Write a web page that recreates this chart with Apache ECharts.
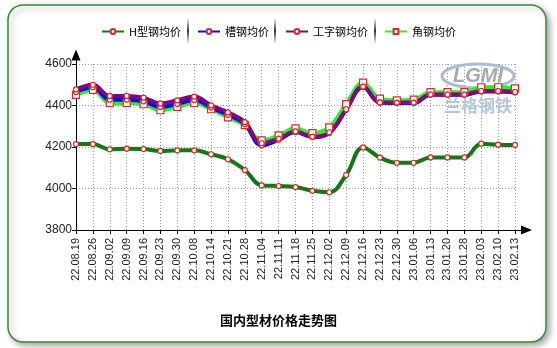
<!DOCTYPE html>
<html>
<head>
<meta charset="utf-8">
<script src="https://cdn.jsdelivr.net/npm/echarts@6/dist/echarts.min.js"></script>
<style>
  html, body { margin: 0; padding: 0; background: #fff; }
  #chart { width: 557px; height: 348px; }
</style>
</head>
<body>
<div id="chart"></div>
<script>
// dates (x axis)
const dates = [
  "22.08.19", "22.08.26", "22.09.02", "22.09.09", "22.09.16", "22.09.23",
  "22.09.30", "22.10.08", "22.10.14", "22.10.21", "22.10.28", "22.11.04",
  "22.11.11", "22.11.18", "22.11.25", "22.12.02", "22.12.09", "22.12.16",
  "22.12.23", "22.12.30", "23.01.06", "23.01.13", "23.01.20", "23.01.28",
  "23.02.03", "23.02.10", "23.02.13"
];

// prices
const hBeam = [4214, 4214, 4189, 4192, 4190, 4181, 4184, 4184, 4165, 4141, 4089, 4015, 4012, 4007,
  3989, 3982, 4065, 4198, 4149, 4124, 4124, 4150, 4150, 4150, 4216, 4211, 4210];
const channel = [4465, 4488, 4428, 4428, 4420, 4393, 4408, 4426, 4390, 4355, 4310, 4208, 4235, 4272,
  4248, 4268, 4380, 4490, 4414, 4412, 4412, 4452, 4452, 4452, 4468, 4468, 4463];
const iBeam = [4478, 4500, 4446, 4446, 4438, 4410, 4425, 4443, 4401, 4367, 4320, 4218, 4240, 4275,
  4250, 4271, 4382, 4491, 4415, 4414, 4414, 4453, 4453, 4453, 4470, 4470, 4465];
const angle = [4451, 4475, 4412, 4412, 4406, 4377, 4393, 4412, 4382, 4343, 4305, 4232, 4256, 4290,
  4267, 4295, 4407, 4510, 4433, 4425, 4428, 4464, 4464, 4464, 4488, 4488, 4483];

const names = ["H型钢均价", "槽钢均价", "工字钢均价", "角钢均价"];

const chart = echarts.init(document.getElementById("chart"));

const markerStyle = { color: "#fff", borderColor: "#d42a2a", borderWidth: 1.2 };

function lineSeries(name, data, color, symbol, size) {
  return {
    name: name,
    type: "line",
    data: data,
    smooth: 0.4,
    symbol: symbol,
    symbolSize: size,
    showAllSymbol: true,
    lineStyle: { color: color, width: 4 },
    itemStyle: Object.assign({}, markerStyle),
    color: color,
    emphasis: { disabled: true },
  };
}

const sep = (x) => ({
  type: "rect",
  shape: { x: x, y: 19, width: 2, height: 24 },
  style: {
    fill: new echarts.graphic.LinearGradient(0, 0, 0, 1, [
      { offset: 0, color: "rgba(60,60,60,0.1)" },
      { offset: 0.5, color: "#333" },
      { offset: 1, color: "rgba(60,60,60,0.1)" },
    ]),
  },
});

const option = {
  animation: false,
  textStyle: { fontFamily: "Liberation Sans, Arial, sans-serif" },
  title: {
    text: "国内型材价格走势图",
    left: "center",
    top: 309,
    textStyle: { fontFamily: "Noto Sans CJK SC", fontSize: 13, fontWeight: "bold", color: "#000" },
  },
  legend: {
    data: names,
    left: 96,
    top: 21,
    itemWidth: 22,
    itemHeight: 6,
    itemGap: 16,
    textStyle: { fontFamily: "Noto Sans CJK SC", fontSize: 11, color: "#000" },
  },
  graphic: [
    {
      type: "rect",
      z: -5,
      shape: { x: 8, y: 5, width: 538, height: 337, r: 15 },
      style: {
        fill: "#fff",
        stroke: "#3d873d",
        lineWidth: 1.5,
        shadowBlur: 6,
        shadowOffsetX: 3,
        shadowOffsetY: 3,
        shadowColor: "rgba(0,0,0,0.35)",
      },
    },
    sep(187), sep(274), sep(374),
    {
      type: "ellipse",
      z: 1,
      shape: { cx: 478, cy: 76, rx: 36, ry: 12 },
      style: { fill: "none", stroke: "#a9bbd6", lineWidth: 3 },
    },
    {
      type: "text",
      z: 1,
      x: 478, y: 76,
      style: {
        text: "LGMI", fill: "#a3a9b5", font: "italic bold 20px Liberation Sans",
        align: "center", verticalAlign: "middle",
      },
    },
    {
      type: "text",
      z: 1,
      x: 478, y: 106,
      style: {
        text: "兰格钢铁", fill: "#b4c6e0", font: "bold 17px Noto Sans CJK SC",
        align: "center", verticalAlign: "middle",
      },
    },
  ],
  grid: [
    { left: 76, right: 42, top: 64, bottom: 118 },
    { left: 76, right: 30.5, top: 55, bottom: 118 },
  ],
  xAxis: [
    {
      type: "category",
      data: dates,
      boundaryGap: false,
      axisLine: { show: false },
      axisTick: { show: true, length: 4, lineStyle: { color: "#000" } },
      axisLabel: { rotate: 90, fontSize: 11, color: "#222", margin: 8, interval: 0 },
      splitLine: { show: true, lineStyle: { color: "#999", type: [1, 2] } },
    },
    {
      gridIndex: 1,
      type: "value",
      min: 0,
      max: 1,
      axisLine: { show: true, symbol: ["none", "triangle"], symbolSize: [9, 11], lineStyle: { color: "#000", width: 1 } },
      axisTick: { show: false },
      axisLabel: { show: false },
      splitLine: { show: false },
    },
  ],
  yAxis: [
    {
      type: "value",
      min: 3800,
      max: 4600,
      interval: 200,
      axisLine: { show: false },
      axisTick: { show: true, length: 4, lineStyle: { color: "#000" } },
      axisLabel: { fontSize: 12, color: "#222", margin: 4, formatter: (v) => String(v) },
      splitLine: { show: true, lineStyle: { color: "#999", type: [1, 2] } },
    },
    {
      gridIndex: 1,
      type: "value",
      min: 0,
      max: 1,
      axisLine: { show: true, symbol: ["none", "triangle"], symbolSize: [9, 11], lineStyle: { color: "#000", width: 1 } },
      axisTick: { show: false },
      axisLabel: { show: false },
      splitLine: { show: false },
    },
  ],
  series: [
    lineSeries(names[3], angle, "#2cf02c", "rect", 7),
    lineSeries(names[1], channel, "#0a0af0", "circle", 5),
    lineSeries(names[2], iBeam, "#7d0a7d", "circle", 5),
    lineSeries(names[0], hBeam, "#137813", "circle", 5),
  ],
};

chart.setOption(option);
</script>
</body>
</html>
